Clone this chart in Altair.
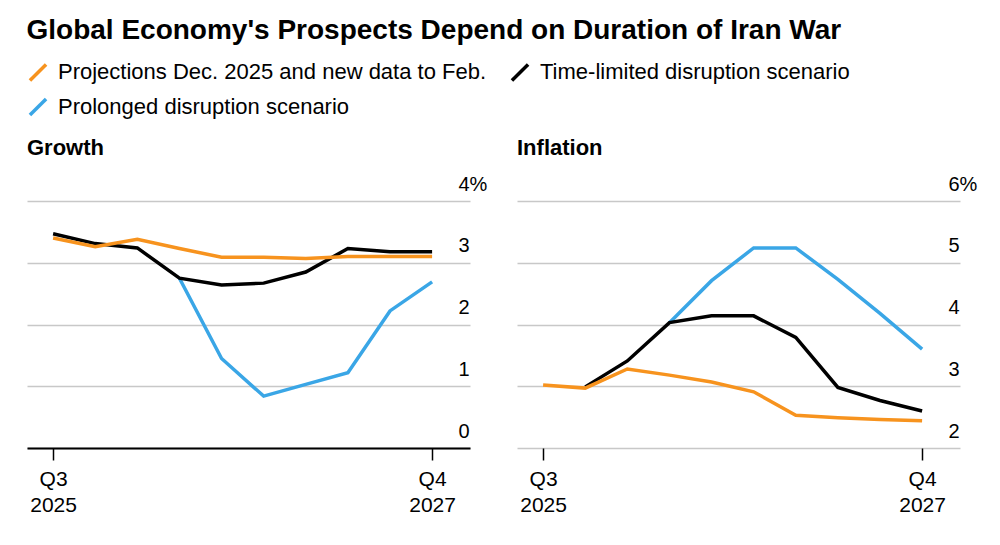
import json
import altair as alt
import pandas as pd

FONT = "Liberation Sans"

quarters = ["Q3 2025", "Q4 2025", "Q1 2026", "Q2 2026", "Q3 2026",
            "Q4 2026", "Q1 2027", "Q2 2027", "Q3 2027", "Q4 2027"]

series_names = ["Projections Dec. 2025 and new data to Feb.",
                "Time-limited disruption scenario",
                "Prolonged disruption scenario"]
series_colors = ["#f7931e", "#000000", "#3aa6e6"]

growth_projections = [3.40, 3.26, 3.38, 3.23, 3.09, 3.09, 3.07, 3.10, 3.10, 3.10]
growth_time_limited = [3.47, 3.31, 3.24, 2.75, 2.64, 2.67, 2.85, 3.23, 3.18, 3.18]
growth_prolonged = [None, None, None, 2.75, 1.45, 0.84, 1.03, 1.22, 2.22, 2.69]

inflation_projections = [3.02, 2.97, 3.28, 3.18, 3.07, 2.91, 2.53, 2.49, 2.46, 2.44]
inflation_time_limited = [None, 2.99, 3.41, 4.03, 4.14, 4.14, 3.79, 2.98, 2.77, 2.60]
inflation_prolonged = [None, None, None, 4.03, 4.71, 5.24, 5.24, 4.73, 4.18, 3.60]

growth_ticks = [0, 1, 2, 3, 4]
inflation_ticks = [2, 3, 4, 5, 6]
x_tick_index = [0, 9]


def long_df(proj, tl, prol):
    rows = []
    # drawing order: prolonged under time-limited under projections
    for name, vals in [(series_names[2], prol), (series_names[1], tl), (series_names[0], proj)]:
        for i, v in enumerate(vals):
            if v is not None:
                rows.append({"i": i, "value": v, "series": name})
    return pd.DataFrame(rows)


color = alt.Color(
    "series:N",
    scale=alt.Scale(domain=series_names, range=series_colors),
    legend=alt.Legend(
        title=None, orient="top", direction="horizontal", columns=2,
        symbolType="M-1,1L1,-1", symbolSize=260, symbolStrokeWidth=3.5,
        labelFontSize=22, labelFont=FONT, labelColor="black", labelLimit=700,
        labelOffset=9, columnPadding=17, rowPadding=3, offset=13, padding=0,
    ),
)

q_expr = "split(" + json.dumps(quarters) + "[datum.value], ' ')"


def panel(df, title, ticks, black_base):
    x_axis = alt.Axis(
        values=x_tick_index, labelExpr=q_expr, title=None, grid=False,
        domain=black_base, domainColor="black", domainWidth=2,
        ticks=True, tickColor="black", tickSize=12, tickWidth=1.5,
        labelFontSize=21, labelFont=FONT, labelColor="black",
        labelPadding=8, labelLineHeight=26, labelFlush=False,
    )
    top = ticks[-1]
    y_axis = alt.Axis(
        orient="right", values=ticks, title=None, grid=True,
        gridColor="#c8c8c8", gridWidth=1.5, ticks=False, domain=False,
        labelAlign="left", labelPadding=-12, labelBaseline="alphabetic",
        labelOffset=-11, labelFontSize=20, labelFont=FONT, labelColor="black",
        labelFlush=False, format="d",
        labelExpr=f"datum.value == {top} ? datum.label + '%' : datum.label",
    )
    return (
        alt.Chart(df)
        .mark_line(strokeWidth=3.5)
        .encode(
            x=alt.X("i:Q", scale=alt.Scale(domain=[-0.62, 9.9], nice=False, zero=False), axis=x_axis),
            y=alt.Y("value:Q", scale=alt.Scale(domain=[ticks[0], ticks[-1]], nice=False, zero=False), axis=y_axis),
            color=color,
        )
        .properties(
            width=443, height=247,
            title=alt.TitleParams(title, anchor="start", fontSize=22, font=FONT,
                                  fontWeight="bold", color="black", offset=14),
        )
    )


growth = panel(long_df(growth_projections, growth_time_limited, growth_prolonged),
               "Growth", growth_ticks, True)
inflation = panel(long_df(inflation_projections, inflation_time_limited, inflation_prolonged),
                  "Inflation", inflation_ticks, False)

chart = (
    alt.hconcat(growth, inflation, spacing=28)
    .properties(
        title=alt.TitleParams("Global Economy's Prospects Depend on Duration of Iran War",
                              anchor="start", fontSize=28, font=FONT, fontWeight="bold",
                              color="black", offset=16),
    )
    .configure(padding={"left": 26, "top": 17, "right": 5, "bottom": 5}, font=FONT)
    .configure_view(stroke="transparent")
)

chart.save("out.html", embed_options={"renderer": "svg", "actions": False})
